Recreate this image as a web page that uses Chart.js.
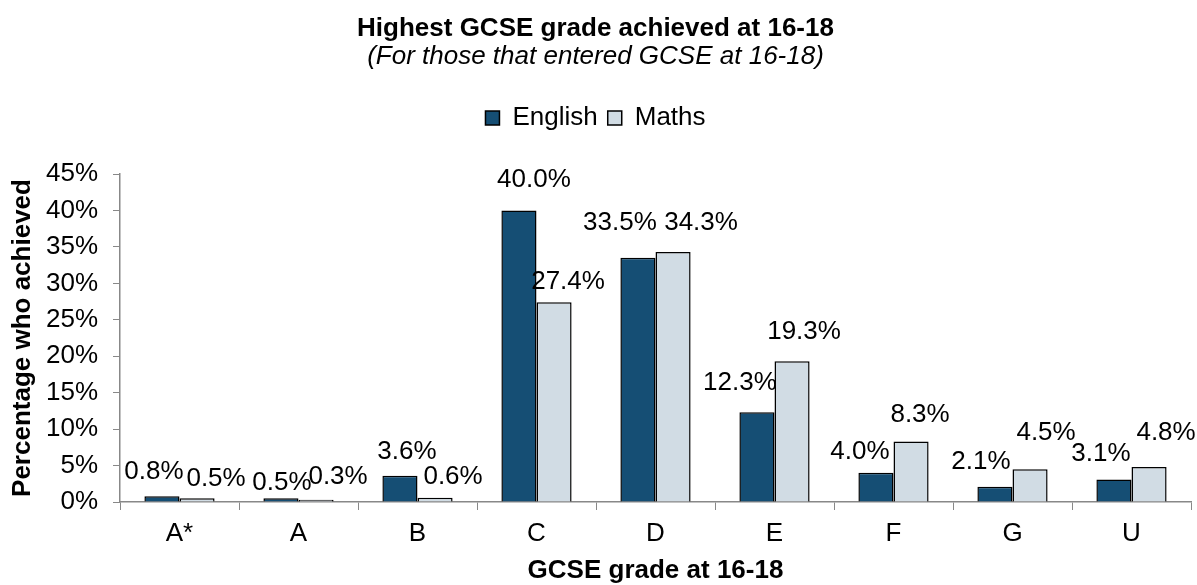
<!DOCTYPE html>
<html>
<head>
<meta charset="utf-8">
<script src="https://cdn.jsdelivr.net/npm/chart.js@4.4.1/dist/chart.umd.min.js"></script>
<style>
  html, body { margin: 0; padding: 0; background: #fff; }
  #wrap { width: 1197px; height: 585px; }
</style>
</head>
<body>
<div id="wrap"><canvas id="c"></canvas></div>
<script>
// Highest GCSE grade achieved at 16-18
const grades = ['A*', 'A', 'B', 'C', 'D', 'E', 'F', 'G', 'U'];
const english = [0.8, 0.5, 3.6, 40.0, 33.5, 12.3, 4.0, 2.1, 3.1];
const maths = [0.5, 0.3, 0.6, 27.4, 34.3, 19.3, 8.3, 4.5, 4.8];
const yTicks = [0, 5, 10, 15, 20, 25, 30, 35, 40, 45];

// label nudges (px) so labels sit like the original, relative to bar top centre
const englishNudge = [[-8, -24], [1, -16], [7, -24], [15, -31], [-18, -35], [-17, -30], [-16, -21], [-14, -25], [-13, -26]];
const mathsNudge = [[19, -20], [22, -23], [18, -21], [14, -20], [28, -29], [12, -29], [9, -27], [16, -36], [17, -34]];

const FONT = "'Liberation Sans', Arial, sans-serif";
const LEGEND_GAP = 33; // extra room under the legend

const barLabels = {
  id: 'barLabels',
  afterDatasetsDraw(chart) {
    const ctx = chart.ctx;
    const nudges = [englishNudge, mathsNudge];
    ctx.save();
    ctx.font = '26px ' + FONT;
    ctx.fillStyle = '#000';
    ctx.textAlign = 'center';
    ctx.textBaseline = 'middle';
    chart.data.datasets.forEach((ds, i) => {
      chart.getDatasetMeta(i).data.forEach((bar, j) => {
        const [dx, dy] = nudges[i][j];
        ctx.fillText(ds.data[j].toFixed(1) + '%', bar.x + dx, bar.y + dy);
      });
    });
    ctx.restore();
  }
};

// push the plot down a bit below the legend
const legendGap = {
  id: 'legendGap',
  beforeLayout(chart) {
    const legend = chart.legend;
    if (!legend || legend._gapPatched) return;
    const fit = legend.fit;
    legend.fit = function () {
      fit.call(this);
      this.height += LEGEND_GAP;
    };
    legend._gapPatched = true;
  }
};

new Chart(document.getElementById('c'), {
  type: 'bar',
  data: {
    labels: grades,
    datasets: [
      {
        label: 'English',
        data: english,
        backgroundColor: '#154e74',
        borderColor: '#000',
        borderWidth: 1.5,
        borderSkipped: 'bottom',
        categoryPercentage: 0.59,
        barPercentage: 1.0
      },
      {
        label: 'Maths',
        data: maths,
        backgroundColor: '#d1dce4',
        borderColor: '#000',
        borderWidth: 1.5,
        borderSkipped: 'bottom',
        categoryPercentage: 0.59,
        barPercentage: 1.0
      }
    ]
  },
  options: {
    responsive: true,
    maintainAspectRatio: false,
    animation: false,
    layout: { padding: { left: 0, right: 6, top: 0, bottom: 0 } },
    plugins: {
      title: {
        display: true,
        text: 'Highest GCSE grade achieved at 16-18',
        color: '#000',
        font: { family: FONT, size: 26, weight: 'bold', lineHeight: 1.0 },
        padding: { top: 16, bottom: 2 }
      },
      subtitle: {
        display: true,
        text: '(For those that entered GCSE at 16-18)',
        color: '#000',
        font: { family: FONT, size: 26, style: 'italic', lineHeight: 1.0 },
        padding: { top: 0, bottom: 25 }
      },
      legend: {
        position: 'top',
        labels: {
          color: '#000',
          font: { family: FONT, size: 26 },
          boxWidth: 14,
          boxHeight: 14,
          padding: 10
        }
      },
      tooltip: { enabled: false }
    },
    scales: {
      x: {
        grid: { drawOnChartArea: false, color: '#888', tickLength: 8 },
        border: { color: '#888', width: 1.5 },
        ticks: { color: '#000', font: { family: FONT, size: 26 }, padding: 8 },
        title: {
          display: true,
          text: 'GCSE grade at 16-18',
          color: '#000',
          font: { family: FONT, size: 26, weight: 'bold' },
          padding: { top: 4, bottom: -1 }
        },
        afterFit: (axis) => { axis.height = 83; }
      },
      y: {
        min: 0,
        max: 45,
        afterBuildTicks: (axis) => { axis.ticks = yTicks.map((v) => ({ value: v })); },
        grid: { drawOnChartArea: false, color: '#888', tickLength: 7 },
        border: { color: '#888', width: 1.5 },
        ticks: {
          color: '#000',
          font: { family: FONT, size: 26 },
          padding: 15,
          callback: (v) => v + '%'
        },
        title: {
          display: true,
          text: 'Percentage who achieved',
          color: '#000',
          font: { family: FONT, size: 26, weight: 'bold' },
          padding: { top: 7, bottom: 0 }
        },
        afterFit: (axis) => { axis.width = 120; }
      }
    }
  },
  plugins: [barLabels, legendGap]
});
</script>
</body>
</html>
